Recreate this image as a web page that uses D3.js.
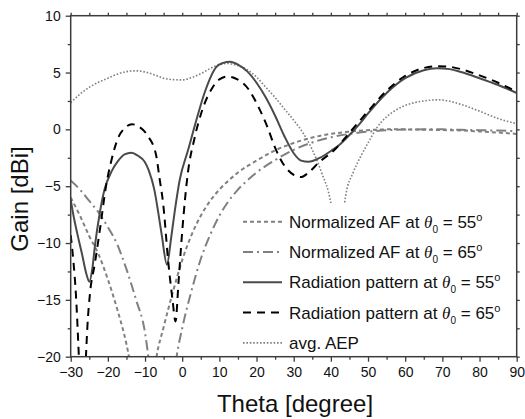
<!DOCTYPE html>
<html>
<head>
<meta charset="utf-8">
<script src="https://cdn.jsdelivr.net/npm/d3@7"></script>
<style>
    body { margin: 0; background: #fff; }
    svg { display: block; font-family: "Liberation Sans", Arial, sans-serif; }
</style>
</head>
<body>
<div id="chart"></div>
<script>
const xTicks = [-30, -20, -10, 0, 10, 20, 30, 40, 50, 60, 70, 80, 90];
const xMinor = [-25, -15, -5, 5, 15, 25, 35, 45, 55, 65, 75, 85];
const yTicks = [-20, -15, -10, -5, 0, 5, 10];
const yMinor = [-17.5, -12.5, -7.5, -2.5, 2.5, 7.5];

// [theta, gain]
const af55 = [[-30,-6.0],[-27.5,-7.6],[-25,-9.4],[-22.5,-11.0],[-20,-13.2],[-17.5,-15.8],[-15,-18.9],[-14.2,-20.2],[-12.5,-24],[-10.7,-30],[-8.5,-24],[-6.9,-20],[-5,-17.4],[-2.5,-14.3],[0,-11.5],[2.5,-9.3],[5,-7.6],[7.5,-6.3],[10,-5.3],[12.5,-4.5],[15,-3.8],[20,-2.75],[25,-1.85],[30,-1.2],[35,-0.72],[40,-0.4],[45,-0.2],[50,-0.07],[55,0],[60,0],[65,-0.03],[70,-0.06],[75,-0.1],[80,-0.18],[85,-0.28],[90,-0.4]];

const af65 = [[-30,-4.5],[-27.5,-5.3],[-25,-6.3],[-22.5,-7.3],[-20,-8.6],[-17.5,-10.1],[-15,-12.3],[-12.5,-14.9],[-10,-17.9],[-9.1,-20],[-7.5,-24],[-5.3,-30],[-3,-24],[-1.5,-20],[0,-17.5],[2.5,-14.2],[5,-11.4],[7.5,-9.3],[10,-7.6],[12.5,-6.3],[15,-5.3],[17.5,-4.5],[20,-3.8],[25,-2.7],[30,-1.8],[35,-1.15],[40,-0.7],[45,-0.4],[50,-0.2],[55,-0.08],[60,-0.02],[65,0],[70,0],[75,-0.04],[80,-0.07],[85,-0.11],[90,-0.15]];

const rad55 = [[-30,-6.2],[-29,-8.0],[-28,-9.5],[-27,-10.9],[-25.8,-12.7],[-25,-13.4],[-24.2,-12.3],[-23.5,-10.3],[-22.2,-7.4],[-20.9,-5.3],[-19,-3.7],[-17.3,-2.8],[-15.5,-2.2],[-13.7,-2.05],[-12,-2.3],[-10.1,-2.85],[-9,-3.6],[-7.5,-5.3],[-6.5,-7.2],[-5.5,-9.3],[-4.1,-11.9],[-3,-9.6],[-2,-7.2],[-0.7,-4.5],[1.6,-1.8],[3.8,0.8],[6,3.2],[9.2,5.5],[11,5.85],[12.9,5.95],[15,5.7],[17.5,5.1],[20,4.1],[22.5,2.8],[25,1.2],[27.5,-0.6],[30,-2.1],[32,-2.75],[34,-2.85],[37,-2.5],[40,-1.9],[42.5,-1.3],[45,-0.5],[47.5,0.4],[50,1.4],[55,3.2],[60,4.5],[65,5.2],[68.5,5.37],[72,5.3],[75,5.05],[80,4.5],[85,3.9],[90,3.2]];

const rad65 = [[-30,-9.3],[-29.3,-11.5],[-28.6,-14.5],[-27.8,-20],[-26.9,-27],[-25.9,-20],[-25.5,-17.3],[-24.8,-14.4],[-23.5,-11.8],[-22,-8.5],[-20.5,-5.0],[-19.1,-2.8],[-17.3,-0.8],[-15.5,0.1],[-13.5,0.45],[-11.5,0.2],[-9.2,-0.6],[-7,-2.3],[-6.1,-4.3],[-5.1,-6.6],[-3.8,-11.5],[-2.6,-15],[-1.8,-16.9],[-1,-13.5],[0,-9],[0.8,-6],[1.5,-3.9],[3.3,-0.8],[5.5,1.8],[8,3.6],[10,4.4],[12.3,4.65],[14.2,4.5],[17.8,3.55],[20.7,1.85],[23,0.15],[24.9,-1.55],[27.5,-3.2],[30,-4.0],[32,-4.2],[34,-3.8],[36.8,-2.9],[41,-1.8],[45,-0.3],[50,1.6],[55,3.4],[60,4.7],[65,5.4],[68.5,5.55],[72,5.5],[75,5.3],[80,4.75],[85,4.1],[90,3.3]];

const aep = [[-30,2.35],[-27.5,3.1],[-25,3.7],[-22.5,4.15],[-20,4.5],[-17.5,4.85],[-15,5.08],[-12.5,5.15],[-10,5.05],[-7.5,4.8],[-5,4.5],[-2.5,4.38],[0,4.35],[2.5,4.55],[5,4.9],[7.5,5.35],[10,5.7],[12,5.8],[14,5.7],[17.5,5.25],[20,4.6],[22.5,3.7],[25,2.8],[27.5,1.8],[30,0.8],[32.5,-0.3],[35,-1.8],[37.5,-3.8],[40,-6.5],[41.5,-10],[42.2,-14],[43,-9],[44,-5.8],[46,-3.8],[48,-2.4],[50,-1.2],[52.5,0.2],[55,1.1],[57.5,1.7],[60,2.1],[65,2.5],[69,2.6],[75,2.2],[80,1.6],[85,0.95],[90,0.5]];

const series = [
    { data: aep,   color: '#808080', width: 1.6, dash: '1.6,1.8', label: 'avg. AEP', angle: null },
    { data: af55,  color: '#808080', width: 2,   dash: '4,3',     label: 'Normalized AF at', angle: '55' },
    { data: af65,  color: '#808080', width: 2,   dash: '10,4,2,4', label: 'Normalized AF at', angle: '65' },
    { data: rad55, color: '#4a4a4a', width: 2,   dash: null,      label: 'Radiation pattern at', angle: '55' },
    { data: rad65, color: '#000000', width: 2,   dash: '8,6',     label: 'Radiation pattern at', angle: '65' }
];
const legendOrder = [1, 2, 3, 4, 0];

const width = 525, height = 419;
const plotLeft = 70.7, plotRight = 516.7, plotTop = 15.7, plotBottom = 356.7;

const svg = d3.select('#chart').append('svg')
    .attr('width', width)
    .attr('height', height);

const x = d3.scaleLinear().domain([-30, 90]).range([plotLeft, plotRight]);
const y = d3.scaleLinear().domain([-20, 10]).range([plotBottom, plotTop]);

svg.append('clipPath').attr('id', 'plot-clip')
    .append('rect')
    .attr('x', plotLeft).attr('y', plotTop)
    .attr('width', plotRight - plotLeft).attr('height', plotBottom - plotTop);

const line = d3.line()
    .x(d => x(d[0]))
    .y(d => y(d[1]))
    .curve(d3.curveMonotoneX);

const curves = svg.append('g').attr('clip-path', 'url(#plot-clip)');
series.forEach(s => {
    curves.append('path')
        .attr('d', line(s.data))
        .attr('fill', 'none')
        .attr('stroke', s.color)
        .attr('stroke-width', s.width)
        .attr('stroke-dasharray', s.dash);
});

// legend
const legend = svg.append('g');
legend.append('rect')
    .attr('x', 232).attr('y', 203)
    .attr('width', plotRight - 233).attr('height', plotBottom - 204)
    .attr('fill', '#fff');

legendOrder.forEach((idx, i) => {
    const s = series[idx];
    const cy = 221.7 + i * 30.3;
    legend.append('line')
        .attr('x1', 243).attr('x2', 282)
        .attr('y1', cy).attr('y2', cy)
        .attr('stroke', s.color)
        .attr('stroke-width', s.width)
        .attr('stroke-dasharray', s.dash);
    const t = legend.append('text')
        .attr('x', 289).attr('y', cy + 6)
        .attr('font-size', 17)
        .attr('fill', '#111');
    if (s.angle) {
        t.append('tspan').text(s.label + ' ');
        t.append('tspan').attr('font-family', '"Liberation Serif", serif').attr('font-style', 'italic').text('θ');
        t.append('tspan').attr('font-size', 10).attr('dy', 5).text('0');
        t.append('tspan').attr('dy', -5).text(' = ' + s.angle);
        t.append('tspan').attr('font-size', 11).attr('dy', -7).text('o');
    } else {
        t.text(s.label);
    }
});

// axes
const axisColor = '#3c3c3c';
function styleAxis(g) {
    g.select('.domain').remove();
    g.selectAll('line').attr('stroke', axisColor).attr('stroke-width', 1.3);
    g.selectAll('text').attr('font-size', 14).attr('fill', '#111').attr('font-family', '"Liberation Sans", Arial, sans-serif');
}

svg.append('g').attr('transform', `translate(0,${plotBottom})`)
    .call(d3.axisBottom(x).tickValues(xTicks).tickSize(5).tickPadding(5).tickFormat(d3.format('d')))
    .call(styleAxis);
svg.append('g').attr('transform', `translate(0,${plotBottom})`)
    .call(d3.axisBottom(x).tickValues(xMinor).tickSize(3).tickFormat(''))
    .call(styleAxis);
svg.append('g').attr('transform', `translate(${plotLeft},0)`)
    .call(d3.axisLeft(y).tickValues(yTicks).tickSize(5).tickPadding(5).tickFormat(d3.format('d')))
    .call(styleAxis);
svg.append('g').attr('transform', `translate(${plotLeft},0)`)
    .call(d3.axisLeft(y).tickValues(yMinor).tickSize(3).tickFormat(''))
    .call(styleAxis);
svg.append('g').attr('transform', `translate(0,${plotTop})`)
    .call(d3.axisTop(x).tickValues(xTicks.concat(xMinor)).tickSize(3).tickFormat(''))
    .call(styleAxis);
svg.append('g').attr('transform', `translate(${plotRight},0)`)
    .call(d3.axisRight(y).tickValues(yTicks.concat(yMinor)).tickSize(3).tickFormat(''))
    .call(styleAxis);

svg.append('rect')
    .attr('x', plotLeft).attr('y', plotTop)
    .attr('width', plotRight - plotLeft).attr('height', plotBottom - plotTop)
    .attr('fill', 'none')
    .attr('stroke', axisColor)
    .attr('stroke-width', 1.5);

svg.append('text')
    .attr('x', 295).attr('y', 412)
    .attr('text-anchor', 'middle')
    .attr('font-size', 24)
    .attr('fill', '#111')
    .text('Theta [degree]');

svg.append('text')
    .attr('transform', 'translate(28,199) rotate(-90)')
    .attr('text-anchor', 'middle')
    .attr('font-size', 24)
    .attr('fill', '#111')
    .text('Gain [dBi]');
</script>
</body>
</html>
